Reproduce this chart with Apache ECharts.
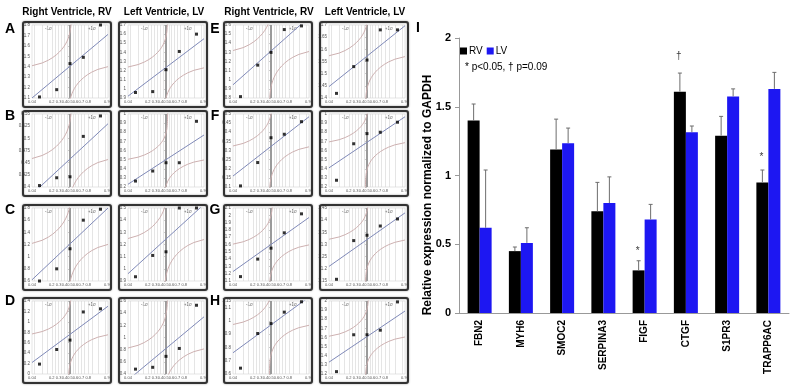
<!DOCTYPE html>
<html>
<head>
<meta charset="utf-8">
<script src="https://cdn.jsdelivr.net/npm/echarts@6/dist/echarts.min.js"></script>
<style>
html,body{margin:0;padding:0;background:#fff;}
#main{width:800px;height:389px;}
</style>
</head>
<body>
<div id="main"></div>
<script>
// ---- bar chart (panel I) ----
var genes = ['FBN2', 'MYH6', 'SMOC2', 'SERPINA3', 'FIGF', 'CTGF', 'S1PR3', 'TRAPP6AC'];
var rvMean = [1.40, 0.45, 1.19, 0.74, 0.31, 1.61, 1.29, 0.95];
var rvErrTop = [1.52, 0.48, 1.41, 0.95, 0.38, 1.745, 1.43, 1.04];
var lvMean = [0.62, 0.51, 1.235, 0.80, 0.68, 1.315, 1.575, 1.63];
var lvErrTop = [1.04, 0.62, 1.345, 0.99, 0.79, 1.36, 1.63, 1.75];
var sigMark = ['', '', '', '', '*', '\u2020', '', '*'];
var sigY = [null, null, null, null, 0.45, 1.87, null, 1.135];
var barTicks = [0, 0.5, 1, 1.5, 2];

// ---- normal probability plots (panels A-H), order: A RV, A LV, B RV, B LV ... H LV ----
var panelLetters = ['A', 'B', 'C', 'D', 'E', 'F', 'G', 'H'];
var plotPos = [0.08, 0.27, 0.5, 0.73, 0.92];
var probTicks = [0.04, 0.2, 0.3, 0.4, 0.5, 0.6, 0.7, 0.8, 0.96];
var probGrid = [0.05, 0.1, 0.15, 0.2, 0.25, 0.3, 0.35, 0.4, 0.45, 0.55, 0.6, 0.65, 0.7, 0.75, 0.8, 0.85, 0.9, 0.95];
var sigmaTicks = [-1, 0, 1];
var sigmaNames = ['-1\u03c3', '\u03bc', '+1\u03c3'];
var yMin  = [1.1, 0.9, 0.4, 0.2, 0.6, 0.9, 0, 0.4, 0.8, 1.4, 0.1, 0.2, 1.1, 1.15, 0.6, 1.2];
var yMax  = [1.8, 1.7, 0.55, 1.0, 1.8, 1.5, 1.4, 1.6, 1.6, 1.7, 0.5, 1.0, 2.1, 1.45, 1.15, 2.0];
var yStep = [0.1, 0.1, 0.025, 0.1, 0.2, 0.1, 0.2, 0.2, 0.1, 0.05, 0.05, 0.1, 0.1, 0.05, 0.1, 0.1];
var qqValues = [
  [1.11, 1.18, 1.43, 1.49, 1.80],
  [0.96, 0.97, 1.21, 1.41, 1.60],
  [0.403, 0.419, 0.421, 0.504, 0.546],
  [0.265, 0.375, 0.466, 0.466, 0.92],
  [0.60, 0.80, 1.13, 1.60, 1.78],
  [0.935, 1.11, 1.14, 1.50, 1.50],
  [0.19, 0.47, 0.65, 1.19, 1.25],
  [0.48, 0.51, 0.69, 0.82, 1.53],
  [0.815, 1.16, 1.30, 1.55, 1.59],
  [1.419, 1.529, 1.556, 1.68, 1.68],
  [0.106, 0.234, 0.37, 0.389, 0.458],
  [0.274, 0.674, 0.785, 0.80, 0.91],
  [1.16, 1.40, 1.55, 1.76, 2.02],
  [1.157, 1.316, 1.338, 1.376, 1.405],
  [0.644, 0.905, 0.98, 1.066, 1.144],
  [1.226, 1.63, 1.63, 1.68, 1.99]
];
// fitted line value at p=0.04 and p=0.96
var fitLo = [1.10, 0.92, 0.385, 0.23, 0.62, 0.96, 0.22, 0.30, 0.945, 1.447, 0.16, 0.41, 1.23, 1.21, 0.76, 1.33];
var fitHi = [1.71, 1.55, 0.53, 0.77, 1.80, 1.53, 1.30, 1.34, 1.685, 1.697, 0.485, 0.97, 1.97, 1.43, 1.18, 1.89];
var bandD = 0.47; // confidence band half width, in probability

// probability axis helpers (probit scale)
function normCdf(z) {
  var x = Math.abs(z) / Math.SQRT2;
  var t = 1 / (1 + 0.3275911 * x);
  var poly = t * (0.254829592 + t * (-0.284496736 + t * (1.421413741 + t * (-1.453152027 + t * 1.061405429))));
  var erf = 1 - poly * Math.exp(-x * x);
  return z >= 0 ? (1 + erf) / 2 : (1 - erf) / 2;
}
function normInv(p) {
  var lo = -8, hi = 8;
  for (var i = 0; i < 60; i++) {
    var mid = (lo + hi) / 2;
    if (normCdf(mid) < p) lo = mid; else hi = mid;
  }
  return (lo + hi) / 2;
}
var zLo = normInv(0.04), zHi = normInv(0.96);

var colX = [23, 119, 224, 320];
var rowY = [22, 111, 205, 298];
var boxW = 88, boxH = 85;

var grids = [], xAxes = [], yAxes = [], series = [], graphics = [];

for (var k = 0; k < 16; k++) {
  var g = Math.floor(k / 8), r = Math.floor((k % 8) / 2), s = k % 2;
  var bx = colX[2 * g + s], by = rowY[r];
  grids.push({ left: bx + 9, top: by + 3, width: boxW - 12, height: boxH - 12,
    show: true, backgroundColor: '#fff', borderColor: '#c8c8c8', borderWidth: 0.5 });
  xAxes.push({ gridIndex: k, type: 'value', min: zLo, max: zHi,
    axisLine: { show: false }, axisTick: { show: false }, splitLine: { show: false },
    axisLabel: { customValues: probTicks.map(normInv), fontSize: 4, color: '#555', margin: 2,
      formatter: function (v) { return String(Math.round(normCdf(v) * 100) / 100); } } });
  xAxes.push({ gridIndex: k, type: 'value', min: zLo, max: zHi, position: 'top',
    axisLine: { show: false }, axisTick: { show: false }, splitLine: { show: false },
    axisLabel: { customValues: sigmaTicks, inside: true, fontSize: 4.5, color: '#666', margin: 1,
      formatter: function (v) { return sigmaNames[sigmaTicks.indexOf(Math.round(v))]; } } });
  yAxes.push({ gridIndex: k, type: 'value', min: yMin[k], max: yMax[k], interval: yStep[k],
    axisLine: { show: false }, splitLine: { show: false },
    axisTick: { show: true, length: 2, lineStyle: { color: '#999', width: 0.5 } },
    axisLabel: { fontSize: 4.5, color: '#555', margin: 2 } });

  var grid = probGrid.map(function (p) {
    return { xAxis: normInv(p), lineStyle: { color: '#d4d4d4', width: 0.6, type: 'solid' } };
  });
  grid.push({ xAxis: 0, lineStyle: { color: '#9a9a9a', width: 2, type: 'solid' } });

  var vals = qqValues[k];
  series.push({
    type: 'scatter', xAxisIndex: 2 * k, yAxisIndex: k, z: 5,
    symbol: 'rect', symbolSize: 3, itemStyle: { color: '#000' },
    data: plotPos.map(function (p, i) { return [normInv(p), vals[i]]; }),
    markLine: { silent: true, symbol: ['none', 'none'], label: { show: false }, z: 1, data: grid }
  });

  var a = (fitLo[k] + fitHi[k]) / 2, b = (fitHi[k] - fitLo[k]) / (zHi - zLo);
  series.push({
    type: 'line', xAxisIndex: 2 * k, yAxisIndex: k, symbol: 'none', z: 4,
    lineStyle: { color: '#7f89b8', width: 1 },
    data: [[zLo, fitLo[k]], [zHi, fitHi[k]]]
  });
  // confidence band: fit line shifted by bandD in probability
  var up = [], dn = [];
  var t0 = normInv(0.04 + bandD), t1 = normInv(0.96 - bandD);
  for (var j = 0; j <= 28; j++) {
    var tu = t0 + j * 0.15;
    up.push([normInv(normCdf(tu) - bandD), a + b * tu]);
    var td = t1 - j * 0.15;
    dn.push([normInv(normCdf(td) + bandD), a + b * td]);
  }
  series.push({ type: 'line', xAxisIndex: 2 * k, yAxisIndex: k, symbol: 'none', z: 3,
    lineStyle: { color: '#cdb0b0', width: 1 }, data: up });
  series.push({ type: 'line', xAxisIndex: 2 * k, yAxisIndex: k, symbol: 'none', z: 3,
    lineStyle: { color: '#cdb0b0', width: 1 }, data: dn });

  graphics.push({ type: 'rect', z: 50, silent: true,
    shape: { x: bx, y: by, width: boxW, height: boxH, r: 2 },
    style: { fill: 'none', stroke: '#333', lineWidth: 2, shadowBlur: 2, shadowColor: 'rgba(0,0,0,0.4)' } });
}

// panel letters and headers
var letterX = [10, 215];
var letterY = [29, 116, 210, 301];
panelLetters.forEach(function (L, i) {
  graphics.push({ type: 'text', x: letterX[Math.floor(i / 4)], y: letterY[i % 4],
    style: { text: L, font: 'bold 14px "Liberation Sans", Arial, sans-serif', fill: '#000', align: 'center', verticalAlign: 'middle' } });
});
[67, 164, 269, 365].forEach(function (cx, i) {
  graphics.push({ type: 'text', x: cx, y: 12,
    style: { text: i % 2 === 0 ? 'Right Ventricle, RV' : 'Left Ventricle, LV',
      font: 'bold 10px "Liberation Sans", Arial, sans-serif', fill: '#000', align: 'center', verticalAlign: 'middle' } });
});
graphics.push({ type: 'text', x: 418, y: 28,
  style: { text: 'I', font: 'bold 14px "Liberation Sans", Arial, sans-serif', fill: '#000', align: 'center', verticalAlign: 'middle' } });
graphics.push({ type: 'text', x: 428, y: 195, rotation: Math.PI / 2,
  style: { text: 'Relative expression normalized to GAPDH', font: 'bold 12px "Liberation Sans", Arial, sans-serif',
    fill: '#000', align: 'center', verticalAlign: 'middle' } });
graphics.push({ type: 'text', x: 465, y: 67,
  style: { text: '* p<0.05, \u2020 p=0.09', font: '10px "Liberation Sans", Arial, sans-serif', fill: '#000', verticalAlign: 'middle' } });

// bar chart axes
var bg = 16;
grids.push({ left: 459, top: 38, width: 330, height: 275 });
xAxes.push({ gridIndex: bg, type: 'category', data: genes,
  axisLine: { lineStyle: { color: '#999' } },
  axisTick: { length: 4, lineStyle: { color: '#999' } },
  axisLabel: { rotate: 90, fontSize: 10, fontWeight: 'bold', color: '#000', margin: 7, fontFamily: '"Liberation Sans", Arial, sans-serif' } });
yAxes.push({ gridIndex: bg, type: 'value', min: barTicks[0], max: barTicks[barTicks.length - 1], interval: 0.5,
  axisLine: { show: true, lineStyle: { color: '#999' } },
  axisTick: { show: true, length: 4, lineStyle: { color: '#999' } },
  splitLine: { show: false },
  axisLabel: { fontSize: 11, fontWeight: 'bold', color: '#000', margin: 8, fontFamily: '"Liberation Sans", Arial, sans-serif' } });
var bx0 = 2 * bg, by0 = bg;

series.push({ name: 'RV', type: 'bar', xAxisIndex: bx0, yAxisIndex: by0, barWidth: 12, barGap: '0%',
  itemStyle: { color: '#000' }, data: rvMean });
series.push({ name: 'LV', type: 'bar', xAxisIndex: bx0, yAxisIndex: by0, barWidth: 12, barGap: '0%',
  itemStyle: { color: '#1d17f2' }, data: lvMean });

function errorSeries(mean, top, dx) {
  return {
    type: 'custom', xAxisIndex: bx0, yAxisIndex: by0, z: 10,
    data: genes.map(function (gname, i) { return [i, mean[i], top[i]]; }),
    renderItem: function (params, api) {
      var base = api.coord([api.value(0), api.value(1)]);
      var tip = api.coord([api.value(0), api.value(2)]);
      var x = base[0] + dx;
      var st = { stroke: '#6d6d6d', lineWidth: 1 };
      return { type: 'group', children: [
        { type: 'line', shape: { x1: x, y1: base[1], x2: x, y2: tip[1] }, style: st },
        { type: 'line', shape: { x1: x - 2, y1: tip[1], x2: x + 2, y2: tip[1] }, style: st }
      ] };
    }
  };
}
series.push(errorSeries(rvMean, rvErrTop, -6));
series.push(errorSeries(lvMean, lvErrTop, 6));
series.push({ type: 'scatter', xAxisIndex: bx0, yAxisIndex: by0, symbolSize: 1, itemStyle: { color: 'rgba(0,0,0,0)' },
  data: sigY.map(function (v, i) { return v === null ? null : [i, v, sigMark[i]]; }).filter(function (d) { return d; }),
  label: { show: true, position: 'inside', offset: [-7, 0], fontSize: 10, color: '#000',
    formatter: function (p) { return p.data[2]; } } });

var chart = echarts.init(document.getElementById('main'));
chart.setOption({
  animation: false,
  backgroundColor: '#fff',
  grid: grids,
  xAxis: xAxes,
  yAxis: yAxes,
  legend: { data: ['RV', 'LV'], left: 458, top: 44, padding: 2, icon: 'rect', itemWidth: 7, itemHeight: 7, itemGap: 4,
    textStyle: { fontSize: 10, color: '#000', padding: [0, 0, 0, -3] } },
  graphic: graphics,
  series: series
});
</script>
</body>
</html>
